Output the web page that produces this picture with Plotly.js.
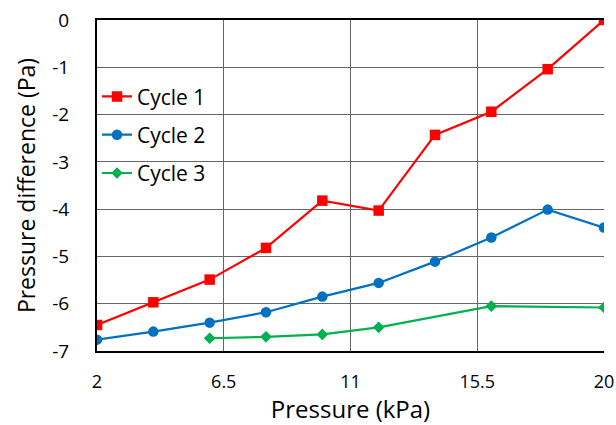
<!DOCTYPE html>
<html>
<head>
<meta charset="utf-8">
<script src="https://cdn.plot.ly/plotly-3.0.1.min.js"></script>
<style>html,body{margin:0;padding:0;background:#fff;}#chart{width:616px;height:425px;}</style>
</head>
<body>
<div id="chart"></div>
<script>
var cycle1X = [2, 4, 6, 8, 10, 12, 14, 16, 18, 20];
var cycle1Y = [-6.45, -5.97, -5.49, -4.82, -3.82, -4.03, -2.43, -1.94, -1.04, 0];
var cycle2X = [2, 4, 6, 8, 10, 12, 14, 16, 18, 20];
var cycle2Y = [-6.76, -6.59, -6.40, -6.18, -5.85, -5.56, -5.11, -4.60, -4.01, -4.39];
var cycle3X = [6, 8, 10, 12, 16, 20];
var cycle3Y = [-6.73, -6.70, -6.65, -6.50, -6.05, -6.08];
var xTicks = [2, 6.5, 11, 15.5, 20];
var xTickLabels = ['2', '6.5', '11', '15.5', '20'];
var yTicks = [0, -1, -2, -3, -4, -5, -6, -7];
var yTickLabels = ['0', '-1', '-2', '-3', '-4', '-5', '-6', '-7'];

var font = '"Open Sans", "Noto Sans", sans-serif';
var traces = [
  {x: cycle1X, y: cycle1Y, name: 'Cycle 1', mode: 'lines+markers', legendgroup: 'a',
   line: {color: '#FF0000', width: 2.2}, marker: {symbol: 'square', size: 10.5, color: '#FF0000'}},
  {x: cycle2X, y: cycle2Y, name: 'Cycle 2', mode: 'lines+markers', legendgroup: 'b',
   line: {color: '#0070C0', width: 2.2}, marker: {symbol: 'circle', size: 10.5, color: '#0070C0'}},
  {x: cycle3X, y: cycle3Y, name: 'Cycle 3', mode: 'lines+markers', legendgroup: 'c',
   line: {color: '#00B050', width: 2.2}, marker: {symbol: 'diamond', size: 9, color: '#00B050'}}
];
var layout = {
  width: 616, height: 425,
  margin: {l: 96.5, r: 12.3, t: 19.5, b: 74.3},
  paper_bgcolor: '#fff', plot_bgcolor: '#fff',
  font: {family: font, color: '#000', size: 18},
  showlegend: true,
  legend: {x: 0.0, y: 0.83, xanchor: 'left', yanchor: 'top', bgcolor: 'rgba(0,0,0,0)',
           font: {size: 21, family: font, color: '#000'}, traceorder: 'grouped', tracegroupgap: 8,
           itemwidth: 30},
  xaxis: {range: [2, 20], tickmode: 'array', tickvals: xTicks, ticktext: xTickLabels,
          showgrid: true, gridcolor: '#666666', gridwidth: 1.2, zeroline: false,
          showline: true, linecolor: '#000', linewidth: 2, mirror: true, ticks: '',
          ticklabelstandoff: 13, tickfont: {size: 18},
          title: {text: 'Pressure (kPa)', font: {size: 24}, standoff: 8}},
  yaxis: {range: [-7, 0], tickmode: 'array', tickvals: yTicks, ticktext: yTickLabels,
          showgrid: true, gridcolor: '#666666', gridwidth: 1.2, zeroline: false,
          showline: true, linecolor: '#000', linewidth: 2, ticks: '',
          ticklabelstandoff: 22, tickfont: {size: 19},
          title: {text: 'Pressure difference (Pa)', font: {size: 23}, standoff: 10}}
};
Plotly.newPlot('chart', traces, layout, {displayModeBar: false, staticPlot: true});
</script>
</body>
</html>
